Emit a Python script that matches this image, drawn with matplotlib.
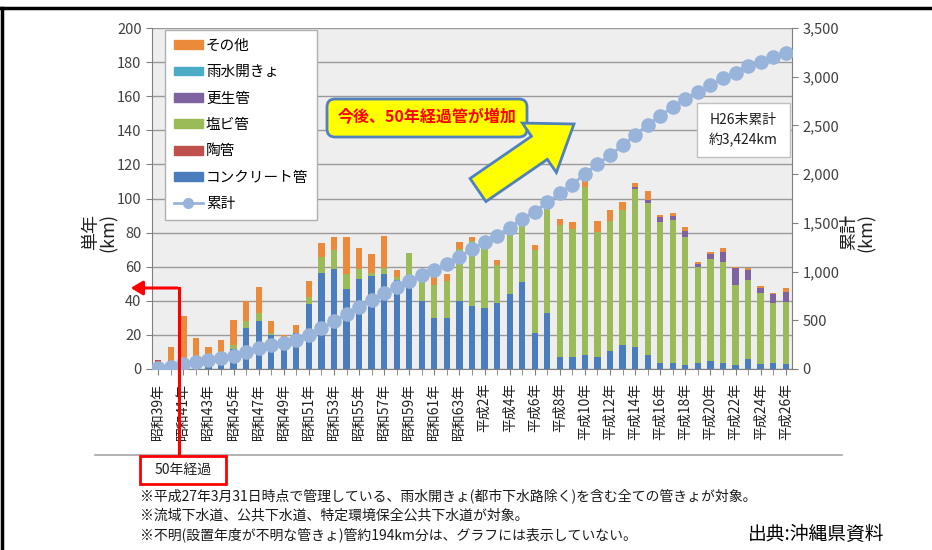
import matplotlib
matplotlib.use('Agg')
import matplotlib.pyplot as plt
import matplotlib.patches as patches
from matplotlib.lines import Line2D
from matplotlib.ticker import FuncFormatter, MultipleLocator
import numpy as np

plt.rcParams['font.family'] = ['Noto Sans CJK JP', 'DejaVu Sans']

# ---- データ（昭和39年～平成26年, 単位 km）----
tick_labels = ['昭和39年', '昭和41年', '昭和43年', '昭和45年', '昭和47年', '昭和49年',
               '昭和51年', '昭和53年', '昭和55年', '昭和57年', '昭和59年', '昭和61年',
               '昭和63年', '平成2年', '平成4年', '平成6年', '平成8年', '平成10年',
               '平成12年', '平成14年', '平成16年', '平成18年', '平成20年', '平成22年',
               '平成24年', '平成26年']

concrete = [2, 1, 3, 2, 2, 9, 12, 24, 28, 20, 18, 21, 38, 56.5, 58.5, 47, 53, 54.5,
            55.7, 52, 48, 40, 30, 30, 40, 37, 36, 38.5, 44, 51, 21, 33, 7, 7, 8, 7,
            10.6, 14, 13, 8, 3.7, 3.7, 2.3, 3.3, 4.7, 3.3, 2.3, 5.7, 2.7, 3.3, 2.7]
clay = [3, 0, 0, 0, 0, 0, 0, 0, 0, 0, 0, 0, 0, 0, 0, 0, 0, 0,
        0, 0, 0, 0, 0, 0, 0, 0, 0, 0, 0, 0, 0, 0, 0, 0, 0, 0,
        0, 0, 0, 0, 0, 0, 0, 0, 0, 0, 0, 0, 0, 0, 0]
pvc = [0, 0, 0, 0, 0, 1, 2, 4, 5, 1, 0, 0, 4.3, 9.4, 11.3, 8.8, 5.9, 1.6,
       3.3, 2, 20, 16, 19.5, 21.9, 30.3, 38.2, 35.2, 22.3, 35.8, 33.3, 48.8, 61.5,
       77.4, 75.3, 98.7, 73.3, 76.1, 79.2, 92.3, 89.6, 82.5, 83.7, 74.9, 56.7, 59.6,
       59.6, 46.9, 46.5, 41.6, 35.6, 36.6]
renewal = [0, 0, 0, 0, 0, 0, 0, 0, 0, 0, 0, 0, 0, 0, 0, 0, 0, 0,
           0, 0, 0, 0, 0, 0, 0, 0, 0, 0, 0, 0, 0, 0, 0, 0, 0, 0,
           0, 0, 1.2, 1.8, 2.9, 2.5, 3.7, 1.6, 3.1, 5.9, 10.2, 5.9, 3.5, 5.1, 5.9]
channel = [0, 0, 0, 0, 0, 0, 0, 0, 0, 0, 0, 0, 0, 0, 0, 0, 0, 0,
           0, 0, 0, 0, 0, 0, 0, 0, 0, 0, 0, 0, 0, 0, 0, 0, 0, 0,
           0, 0, 0, 0, 0, 0, 0, 0, 0, 0, 0, 0, 0, 0, 0]
other = [0, 12, 28, 16, 11, 7, 15, 12, 15, 7, 2, 5, 9.2, 8.2, 7.8, 21.5, 12.3, 11.3,
         19, 3.9, 0, 0, 4.9, 4.1, 3.9, 2, 0, 2.9, 0, 0, 2.9, 0, 3.3, 3.9, 3.3, 6.5,
         6.3, 4.5, 2.7, 5.1, 1, 1.4, 2.5, 1, 1.2, 2.2, 0.5, 1.4, 0.8, 0.8, 2.5]
cumulative = [10, 25, 52, 72, 88, 108, 138, 176, 218, 245, 266, 294, 345, 418, 490,
              565, 635, 705, 782, 842, 905, 965, 1020, 1078, 1153, 1232, 1302, 1370,
              1452, 1540, 1615, 1712, 1802, 1893, 2005, 2100, 2195, 2295, 2402, 2505,
              2598, 2690, 2775, 2840, 2910, 2982, 3043, 3105, 3155, 3200, 3241]

series = [('コンクリート管', concrete, '#4a7dbe'),
          ('陶管', clay, '#c0504d'),
          ('塩ビ管', pvc, '#9bbb59'),
          ('更生管', renewal, '#7f63a1'),
          ('雨水開きょ', channel, '#4bacc6'),
          ('その他', other, '#ec8a3c')]
line_color = '#98b4da'
text_color = '#404040'

W, H = 932, 550
fig = plt.figure(figsize=(W / 100, H / 100), dpi=100)
tr = fig.dpi_scale_trans


def px(x, y):
    """画像ピクセル座標 → インチ座標"""
    return x / 100, (H - y) / 100


# ---- 棒グラフ ----
ax = fig.add_axes([152 / W, 1 - 369 / H, 640 / W, 341 / H])
ax.set_facecolor('#eeeeee')
x = np.arange(len(concrete))
bottom = np.zeros(len(x))
for name, vals, col in series:
    ax.bar(x, vals, bottom=bottom, width=0.5, color=col, zorder=2)
    bottom += np.array(vals)

ax.set_xlim(-0.5, len(x) - 0.5)
ax.set_ylim(0, 200)
ax.yaxis.set_major_locator(MultipleLocator(20))
ax.yaxis.grid(True, color='#9a9a9a', lw=1)
ax.set_axisbelow(True)
ax.set_xticks(x[::2])
ax.set_xticklabels(tick_labels, rotation=90, fontsize=10, color='#202020')
ax.set_xticks(x, minor=True)
ax.tick_params(axis='x', which='both', length=4, color='#808080', pad=6)
ax.tick_params(axis='y', length=4, color='#808080', labelsize=10.5, labelcolor=text_color)
for s in ['top', 'right']:
    ax.spines[s].set_visible(False)
for s in ['left', 'bottom']:
    ax.spines[s].set_color('#808080')

# ---- 累計（第2軸）----
ax2 = ax.twinx()
ax2.plot(x, cumulative, color=line_color, lw=2, marker='o', markersize=9.5,
         markeredgecolor=line_color, zorder=3)
ax2.set_ylim(0, 3500)
ax2.yaxis.set_major_locator(MultipleLocator(500))
ax2.yaxis.set_major_formatter(FuncFormatter(lambda v, p: f'{int(v):,}'))
ax2.tick_params(axis='y', length=4, color='#808080', labelsize=10.5, labelcolor=text_color)
ax2.spines['top'].set_visible(False)
ax2.spines['left'].set_visible(False)
ax2.spines['right'].set_color('#808080')
ax2.spines['bottom'].set_visible(False)

# ---- 凡例 ----
handles = [patches.Rectangle((0, 0), 1, 1, color=col) for name, vals, col in series[::-1]]
handles.append(Line2D([0], [0], color=line_color, lw=2, marker='o', markersize=7))
labels = [name for name, vals, col in series[::-1]] + ['累計']
leg = ax2.legend(handles, labels, loc='upper left', bbox_to_anchor=(165 / W, 1 - 30 / H),
                 bbox_transform=fig.transFigure, borderaxespad=0, fontsize=10.5,
                 labelspacing=0.85, handlelength=2.0, handleheight=0.55, handletextpad=0.2,
                 fancybox=False, framealpha=1, edgecolor='#b0b0b0', borderpad=0.6)
leg.set_zorder(10)

# ---- 軸ラベル ----
fig.text(100 / W, 1 - 232 / H, '単年\n(km)', rotation=90, ha='center', va='center',
         fontsize=13, color='#202020', linespacing=1.0, multialignment='center')
fig.text(858 / W, 1 - 232 / H, '累計\n(km)', rotation=90, ha='center', va='center',
         fontsize=13, color='#202020', linespacing=1.0, multialignment='center')

# ---- 吹き出し（今後、50年経過管が増加）----
box = patches.FancyBboxPatch(px(327, 137), 2.0, 0.38, transform=tr,
                             boxstyle='round,pad=0,rounding_size=0.08',
                             fc='#ffff00', ec='#4f81bd', lw=2, zorder=5)
fig.patches.append(box)
fig.text(427 / W, 1 - 117 / H, '今後、50年経過管が増加', ha='center', va='center',
         fontsize=11.5, color='#ff0000', fontweight='bold', zorder=6)

x0, y0 = px(478, 190)
x1, y1 = px(574, 124)
arrow = patches.FancyArrow(x0, y0, x1 - x0, y1 - y0, width=0.28, head_width=0.6,
                           head_length=0.42, length_includes_head=True, transform=tr,
                           fc='#ffff00', ec='#4f81bd', lw=2, zorder=5)
fig.patches.append(arrow)

# ---- H26末累計 ----
hb = patches.Rectangle(px(697, 157), 0.93, 0.54, transform=tr, fc='white',
                       ec='#c0c0c0', lw=1, zorder=5)
fig.patches.append(hb)
fig.text(743.5 / W, 1 - 130 / H, 'H26末累計\n約3,424km', ha='center', va='center',
         fontsize=10, color='#202020', linespacing=1.6, zorder=6)

# ---- 50年経過 ----
fig.lines.append(Line2D([95 / W, 842 / W], [1 - 455 / H, 1 - 455 / H],
                        transform=fig.transFigure, color='#a6a6a6', lw=1.2))
fig.lines.append(Line2D([179 / W, 179 / W], [1 - 456 / H, 1 - 288 / H],
                        transform=fig.transFigure, color='#ff0000', lw=2.2, zorder=6))
red_arrow = patches.FancyArrowPatch(px(180, 288), px(128, 288), transform=tr,
                                    arrowstyle='-|>,head_length=0.5,head_width=0.3',
                                    mutation_scale=14, color='#ff0000', lw=2.2, zorder=6)
fig.patches.append(red_arrow)
rb = patches.Rectangle(px(140, 484), 0.86, 0.28, transform=tr, fc='white',
                       ec='#ff0000', lw=2, zorder=6)
fig.patches.append(rb)
fig.text(183 / W, 1 - 470 / H, '50年経過', ha='center', va='center', fontsize=10,
         color='#202020', zorder=7)

# ---- 注記 ----
notes = ['※平成27年3月31日時点で管理している、雨水開きょ(都市下水路除く)を含む全ての管きょが対象。',
         '※流域下水道、公共下水道、特定環境保全公共下水道が対象。',
         '※不明(設置年度が不明な管きょ)管約194km分は、グラフには表示していない。']
for k, line in enumerate(notes):
    fig.text(140 / W, 1 - (496 + 19.5 * k) / H, line, ha='left', va='center',
             fontsize=10, color='#1a1a1a')
fig.text(748 / W, 1 - 534 / H, '出典:沖縄県資料', ha='left', va='center',
         fontsize=13.5, color='#000000')

# ---- 外枠 ----
fig.lines.append(Line2D([0, 1], [1 - 8 / H, 1 - 8 / H], transform=fig.transFigure,
                        color='black', lw=2.5))
fig.lines.append(Line2D([2 / W, 2 / W], [0, 1 - 8 / H], transform=fig.transFigure,
                        color='black', lw=2.5))

fig.savefig('out.png', dpi=100)
